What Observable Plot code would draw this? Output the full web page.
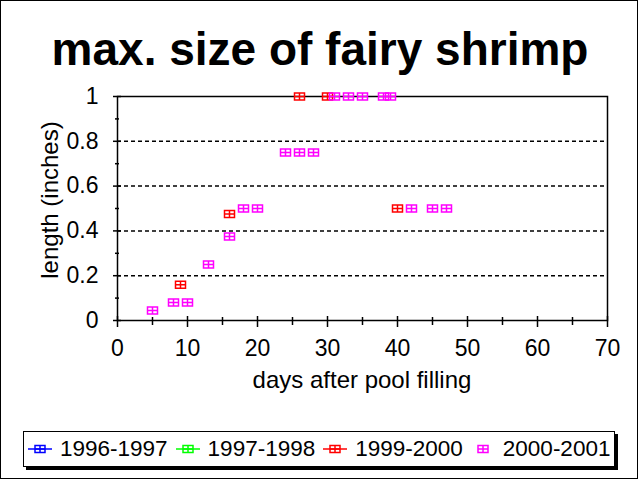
<!DOCTYPE html>
<html>
<head>
<meta charset="utf-8">
<script src="https://cdn.jsdelivr.net/npm/d3@7"></script>
<script src="https://cdn.jsdelivr.net/npm/@observablehq/plot@0.6"></script>
<style>
  body { margin: 0; background: #fff; }
  #chart { position: relative; width: 640px; height: 480px; overflow: hidden; font-family: "Liberation Sans", Arial, sans-serif; color: #000; }
  #border { position: absolute; left: 0; top: 0; width: 638px; height: 479px; box-sizing: border-box; border: 1px solid #000; pointer-events: none; }
  #plot { position: absolute; left: 0; top: 0; }
  #title { position: absolute; left: 0; top: 26px; width: 640px; text-align: center; font-weight: bold; font-size: 46px; line-height: 46px; white-space: nowrap; }
  #xtitle { position: absolute; left: 0; top: 368px; width: 724px; text-align: center; font-size: 24px; line-height: 24px; white-space: nowrap; }
  #ytitle { position: absolute; left: 50px; top: 200px; width: 300px; text-align: center; font-size: 24px; line-height: 24px; white-space: nowrap; transform: translate(-50%, -50%) rotate(-90deg); }
  #legend { position: absolute; left: 23px; top: 431px; width: 592px; height: 36px; box-sizing: border-box; border: 1px solid #000; background: #fff; box-shadow: 3px 3px 0 #000; display: flex; align-items: center; padding-left: 4px; font-size: 22.5px; white-space: nowrap; }
  .item { display: flex; align-items: center; margin-right: 8px; }
  .item svg { display: block; margin-right: 8px; }
</style>
</head>
<body>
<div id="chart">
  <div id="plot"></div>
  <div id="title"></div>
  <div id="xtitle"></div>
  <div id="ytitle"></div>
  <div id="legend"></div>
  <div id="border"></div>
</div>
<script>
// Chart text
const titleText = "max. size of fairy shrimp";
const xLabel = "days after pool filling";
const yLabel = "length (inches)";

// Seasons, their colours and whether the legend key shows a line
const seasons = ["1996-1997", "1997-1998", "1999-2000", "2000-2001"];
const seasonColors = ["#0000ff", "#00ff00", "#ff0000", "#ff00ff"];
const seasonLine = [true, true, true, false];

// Measurements per season: days after filling, max length in inches
const days9697 = [];
const length9697 = [];
const days9798 = [];
const length9798 = [];
const days9900 = [9, 16, 26, 30, 40];
const length9900 = [0.16, 0.475, 1, 1, 0.5];
const days0001 = [5, 8, 10, 13, 16, 18, 20, 24, 26, 28, 31, 33, 35, 38, 39, 42, 45, 47];
const length0001 = [0.045, 0.08, 0.08, 0.25, 0.375, 0.5, 0.5, 0.75, 0.75, 0.75, 1, 1, 1, 1, 1, 0.5, 0.5, 0.5];

// Axis ticks
const xMajor = [0, 10, 20, 30, 40, 50, 60, 70];
const xMinor = [5, 15, 25, 35, 45, 55, 65];
const yMajor = [0, 0.2, 0.4, 0.6, 0.8, 1];
const yMinor = [0.1, 0.3, 0.5, 0.7, 0.9];
const yGrid = [0.2, 0.4, 0.6, 0.8];

const seriesDays = [days9697, days9798, days9900, days0001];
const seriesLength = [length9697, length9798, length9900, length0001];

// Long table: one row per measurement, series in drawing order
const rows = seasons.flatMap((season, s) =>
  seriesDays[s].map((d, i) => ({season, day: d, length: seriesLength[s][i]}))
);

// Open box with a cross through it
const boxCross = {
  draw(ctx) {
    ctx.moveTo(-5, -3.5); ctx.lineTo(5, -3.5); ctx.lineTo(5, 3.5); ctx.lineTo(-5, 3.5); ctx.closePath();
    ctx.moveTo(0, -3.5); ctx.lineTo(0, 3.5);
    ctx.moveTo(-5, 0); ctx.lineTo(5, 0);
  }
};

const fontFamily = '"Liberation Sans", Arial, sans-serif';
const ink = 1.5;

const plot = Plot.plot({
  width: 640,
  height: 400,
  marginTop: 96,
  marginLeft: 117,
  marginRight: 33,
  marginBottom: 80,
  style: {fontFamily, fontSize: "23px", color: "#000", background: "transparent"},
  x: {domain: [0, 70], axis: null},
  y: {domain: [0, 1], axis: null},
  color: {domain: seasons, range: seasonColors},
  marks: [
    Plot.ruleY(yGrid, {y: d => d, stroke: "#000", strokeWidth: ink, strokeDasharray: "4,3"}),
    Plot.frame({stroke: "#000", strokeWidth: ink}),
    Plot.ruleX(xMajor, {x: d => d, y1: 0, y2: 0, insetTop: -4, insetBottom: -7, stroke: "#000", strokeWidth: ink}),
    Plot.ruleX(xMinor, {x: d => d, y1: 0, y2: 0, insetTop: -3, insetBottom: -5, stroke: "#000", strokeWidth: ink}),
    Plot.ruleY(yMajor, {y: d => d, x1: 0, x2: 0, insetLeft: -4, insetRight: -4, stroke: "#000", strokeWidth: ink}),
    Plot.ruleY(yMinor, {y: d => d, x1: 0, x2: 0, insetLeft: -2, insetRight: -2, stroke: "#000", strokeWidth: ink}),
    Plot.axisX({ticks: xMajor, tickSize: 0, tickPadding: 19, fontSize: 23, label: null, tickFormat: d => String(d)}),
    Plot.axisY({ticks: yMajor, tickSize: 0, tickPadding: 19, fontSize: 23, label: null, tickFormat: d => String(d)}),
    Plot.dot(rows, {x: "day", y: "length", stroke: "season", fill: "none", symbol: boxCross, strokeWidth: ink})
  ]
});
document.getElementById("plot").appendChild(plot);

document.getElementById("title").textContent = titleText;
document.getElementById("xtitle").textContent = xLabel;
document.getElementById("ytitle").textContent = yLabel;

// Legend: key swatch (line + box marker) followed by the season name
const legend = d3.select("#legend");
seasons.forEach((season, s) => {
  const item = legend.append("div").attr("class", "item");
  const svg = item.append("svg").attr("width", 24).attr("height", 14);
  if (seasonLine[s]) {
    svg.append("line").attr("x1", 0).attr("x2", 24).attr("y1", 7).attr("y2", 7)
      .attr("stroke", seasonColors[s]).attr("stroke-width", ink);
  }
  svg.append("path").attr("transform", "translate(12,7)")
    .attr("d", d3.symbol(boxCross)())
    .attr("fill", "none").attr("stroke", seasonColors[s]).attr("stroke-width", ink);
  item.append("span").text(season);
});
</script>
</body>
</html>
